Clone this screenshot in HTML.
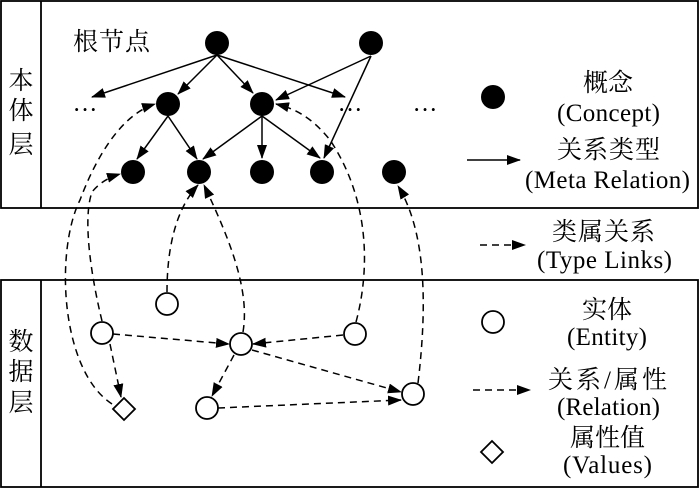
<!DOCTYPE html>
<html><head><meta charset="utf-8"><style>
html,body{margin:0;padding:0;background:#fff}
svg{display:block}
text{font-family:"Liberation Serif","Noto Serif CJK SC",serif;font-size:25px;fill:#000}
.c{text-anchor:middle}
</style></head><body>
<svg width="700" height="488" viewBox="0 0 700 488">
<defs>
<marker id="a" markerWidth="14" markerHeight="10" refX="13" refY="5" orient="auto" markerUnits="userSpaceOnUse"><path d="M0,0 L14,5 L0,10 z" fill="#000"/></marker>
</defs>
<g fill="none" stroke="#000" stroke-width="1.8">
<rect x="1" y="1" width="697" height="207"/>
<line x1="41" y1="1" x2="41" y2="208"/>
<rect x="1" y="280" width="697" height="207"/>
<line x1="41" y1="280" x2="41" y2="487"/>
</g>
<g stroke="#000" stroke-width="1.5" marker-end="url(#a)">
<line x1="217" y1="55" x2="92" y2="97"/>
<line x1="217" y1="55" x2="178" y2="94"/>
<line x1="217" y1="55" x2="253" y2="93"/>
<line x1="217" y1="55" x2="345" y2="97"/>
<line x1="371" y1="56" x2="276" y2="100"/>
<line x1="371" y1="56" x2="324" y2="158"/>
<line x1="168" y1="116" x2="137" y2="159"/>
<line x1="168" y1="116" x2="197" y2="159"/>
<line x1="262" y1="116" x2="203" y2="159"/>
<line x1="262" y1="116" x2="262" y2="158"/>
<line x1="262" y1="116" x2="320" y2="158"/>
<line x1="467" y1="160" x2="520" y2="160"/>
</g>
<g fill="#000">
<circle cx="217" cy="43" r="12"/><circle cx="371" cy="43" r="12"/>
<circle cx="168" cy="104" r="12"/><circle cx="262" cy="104" r="12"/>
<circle cx="133" cy="172" r="12"/><circle cx="199" cy="172" r="12"/>
<circle cx="262" cy="172" r="12"/><circle cx="322" cy="172" r="12"/>
<circle cx="394" cy="172" r="12"/>
<circle cx="493" cy="97" r="12"/>
</g>
<g fill="none" stroke="#000" stroke-width="1.5" stroke-dasharray="7,5" marker-end="url(#a)">
<path d="M112,404 C60,370 55,250 80,200 C95,160 120,115 155,104"/>
<path d="M102,321 C92,280 82,220 92,192 C100,182 110,177 120,174"/>
<path d="M167,292 C167,250 175,210 198,185"/>
<path d="M243,332 C250,290 230,240 204,185"/>
<path d="M356,322 C370,270 370,200 330,140 C310,115 292,108 276,104"/>
<path d="M418,383 C428,300 425,230 398,186"/>
<path d="M113,334 L229,344"/>
<path d="M343,335 L253,344"/>
<path d="M110,344 L121,397"/>
<path d="M234,355 L212,396"/>
<path d="M252,350 L401,392"/>
<path d="M218,408 L401,400"/>
<path d="M480,245 L525,245"/>
<path d="M473,390 L530,390"/>
</g>
<g fill="#fff" stroke="#000" stroke-width="1.8">
<circle cx="167" cy="304" r="11"/><circle cx="102" cy="333" r="11"/>
<circle cx="241" cy="344" r="11"/><circle cx="355" cy="334" r="11"/>
<circle cx="413" cy="394" r="11"/><circle cx="207" cy="408" r="11"/>
<path d="M124,398 L135,409 L124,420 L113,409 z"/>
<circle cx="493" cy="322" r="11"/>
<path d="M492,441 L503,452 L492,463 L481,452 z"/>
</g>
<g>
<text class="c" x="21" y="89">本</text><text class="c" x="21" y="119">体</text><text class="c" x="21" y="153">层</text>
<text class="c" x="21" y="350">数</text><text class="c" x="21" y="380">据</text><text class="c" x="21" y="411">层</text>
<text x="73" y="50" textLength="77">根节点</text>
<text class="c" x="85" y="118">···</text><text class="c" x="350" y="118">···</text><text class="c" x="425" y="118">···</text>
<text x="583" y="91" textLength="50">概念</text>
<text x="557" y="121" textLength="103">(Concept)</text>
<text x="557" y="158" textLength="103">关系类型</text>
<text x="525" y="188" textLength="165">(Meta Relation)</text>
<text x="552" y="240" textLength="103">类属关系</text>
<text x="537" y="268" textLength="135">(Type Links)</text>
<text x="582" y="318" textLength="50">实体</text>
<text x="567" y="345" textLength="80">(Entity)</text>
<text x="548" y="388" textLength="119">关系/属性</text>
<text x="557" y="415" textLength="103">(Relation)</text>
<text x="570" y="446" textLength="75">属性值</text>
<text x="563" y="473" textLength="89">(Values)</text>
</g>
</svg>
</body></html>
